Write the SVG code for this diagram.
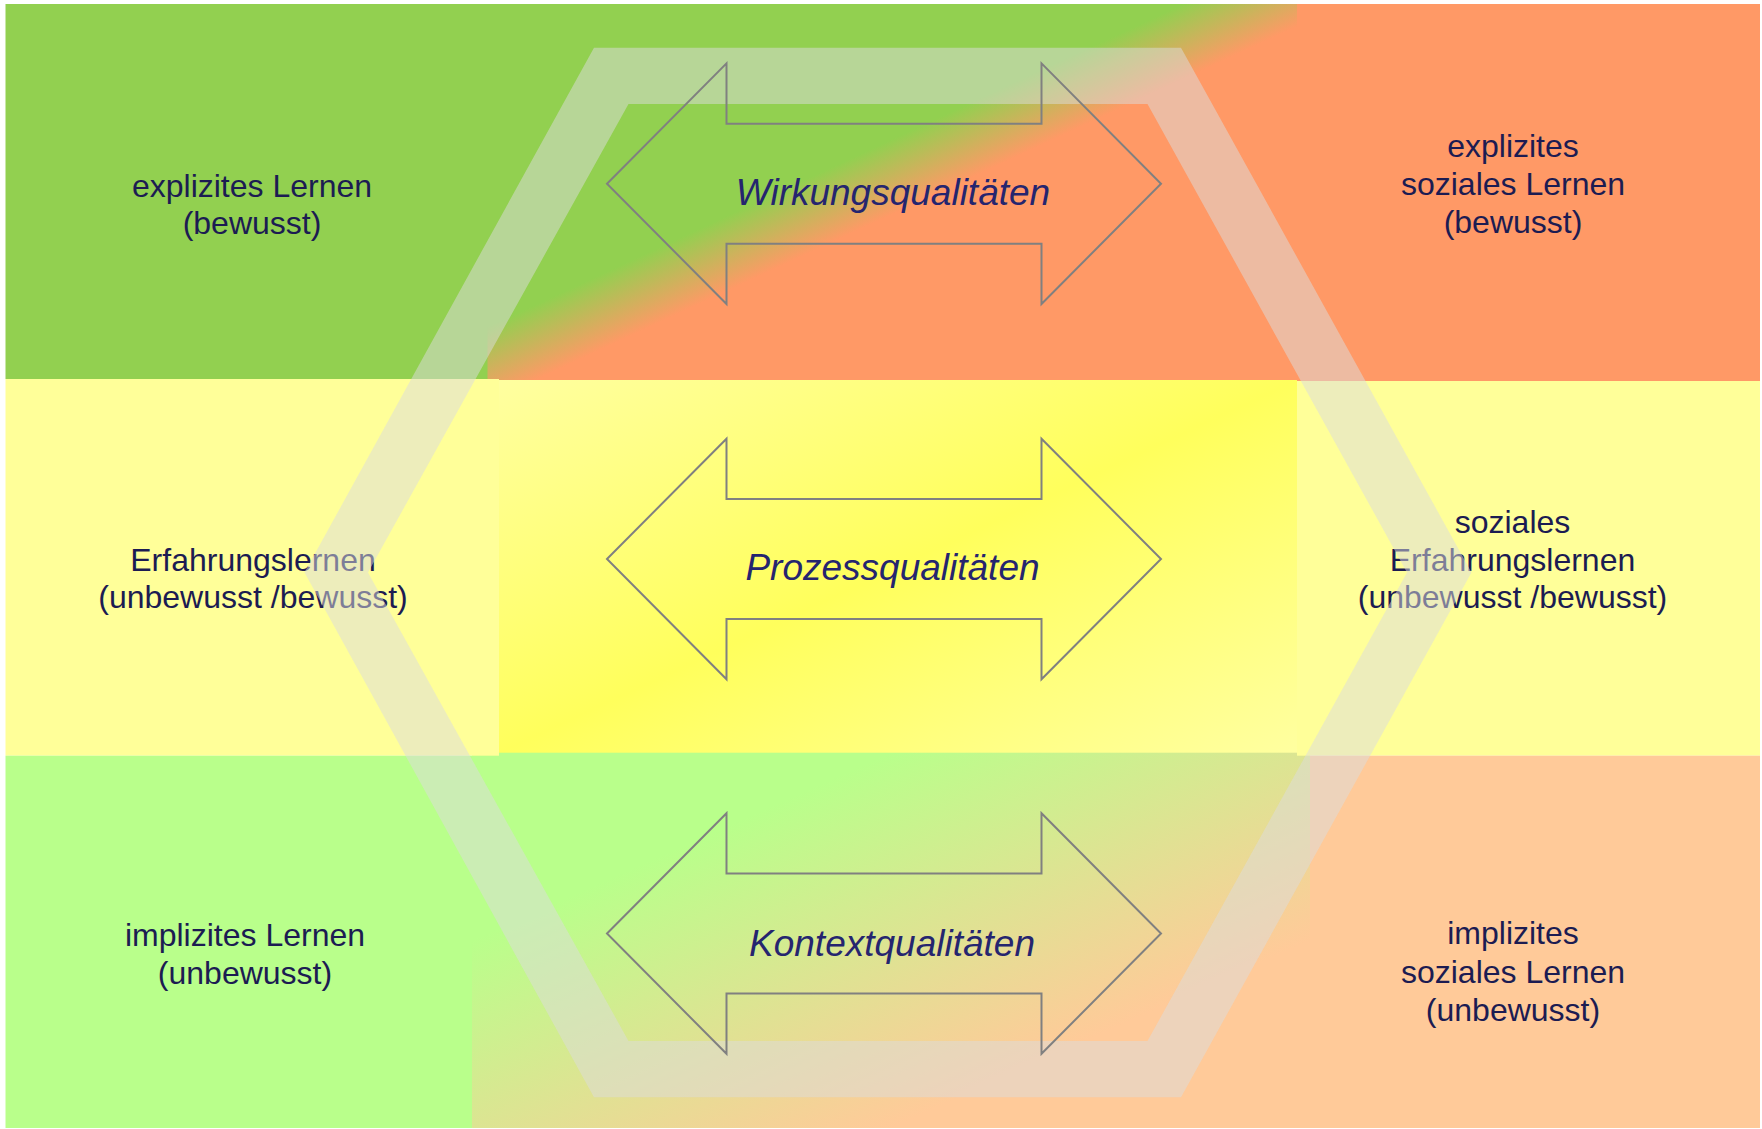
<svg xmlns="http://www.w3.org/2000/svg" width="1762" height="1129" viewBox="0 0 1762 1129">
<style>
.lbl{font-family:"Liberation Sans",Arial,sans-serif;font-size:32px;fill:#1C1C52;text-anchor:middle}
.q{font-family:"Liberation Sans",Arial,sans-serif;font-size:37px;font-style:italic;fill:#25256F;text-anchor:middle}
.arr{fill:none;stroke:#808080;stroke-width:2;stroke-linejoin:miter}
</style>
<defs>
<linearGradient id="gTop" x1="0" y1="0" x2="1" y2="1">
<stop offset="0.43" stop-color="#92D050"/>
<stop offset="0.53" stop-color="#FF9966"/>
</linearGradient>
<linearGradient id="gMid" x1="0" y1="0" x2="1" y2="1">
<stop offset="0" stop-color="#FFFFA0"/>
<stop offset="0.5" stop-color="#FFFF5C"/>
<stop offset="1" stop-color="#FFFFA0"/>
</linearGradient>
<linearGradient id="gBot" x1="0" y1="0" x2="1" y2="1">
<stop offset="0.25" stop-color="#B9FF8B"/>
<stop offset="0.75" stop-color="#FFCA99"/>
</linearGradient>
<path id="dbl" d="M-277,0 L-157.5,-120.3 L-157.5,-60 L157.5,-60 L157.5,-120.3 L277,0 L157.5,120.3 L157.5,60 L-157.5,60 L-157.5,120.3 Z"/>
</defs>
<rect width="1762" height="1129" fill="#FFFFFF"/>

<g id="cell-top-center"><rect x="487" y="4" width="810" height="376" fill="url(#gTop)"/></g>
<g id="cell-top-left">
<rect x="5.5" y="4" width="482" height="375" fill="#92D050"/>
<text class="lbl" x="252" y="196.5">explizites Lernen</text>
<text class="lbl" x="252" y="233.5">(bewusst)</text>
</g>
<g id="cell-top-right">
<rect x="1297" y="4" width="463" height="377" fill="#FF9966"/>
<text class="lbl" x="1513" y="157">explizites</text>
<text class="lbl" x="1513" y="195">soziales Lernen</text>
<text class="lbl" x="1513" y="233">(bewusst)</text>
</g>

<g id="cell-mid-center"><rect x="499" y="380" width="798" height="373" fill="url(#gMid)"/></g>
<g id="cell-bot-center"><rect x="472" y="752.7" width="838" height="375.3" fill="url(#gBot)"/></g>
<g id="cell-mid-left">
<rect x="5.5" y="379" width="493.5" height="376.7" fill="#FFFF99"/>
<text class="lbl" x="253" y="570.7">Erfahrungslernen</text>
<text class="lbl" x="253" y="608.3">(unbewusst /bewusst)</text>
</g>
<g id="cell-mid-right">
<rect x="1297" y="381" width="463" height="374.7" fill="#FFFF99"/>
<text class="lbl" x="1512.5" y="532.7">soziales</text>
<text class="lbl" x="1512.5" y="570.7">Erfahrungslernen</text>
<text class="lbl" x="1512.5" y="608.3">(unbewusst /bewusst)</text>
</g>
<g id="cell-bot-left">
<rect x="5.5" y="755.7" width="466.5" height="372.3" fill="#B9FF8B"/>
<text class="lbl" x="245" y="945.7">implizites Lernen</text>
<text class="lbl" x="245" y="984">(unbewusst)</text>
</g>
<g id="cell-bot-right">
<rect x="1310" y="755.7" width="450" height="372.3" fill="#FFCA99"/>
<text class="lbl" x="1513" y="944">implizites</text>
<text class="lbl" x="1513" y="982.7">soziales Lernen</text>
<text class="lbl" x="1513" y="1021">(unbewusst)</text>
</g>

<g id="hexagon-band">
<path fill="#DBDBDB" fill-opacity="0.51" fill-rule="evenodd" d="M594,47.7 L1181,47.7 L1471.5,572.5 L1181,1097.3 L594,1097.3 L304.5,572.5 Z M628.5,104 L1147.5,104 L1407,572.5 L1147.5,1041 L628.5,1041 L368,572.5 Z"/>
</g>

<g id="arrow-wirkung">
<use href="#dbl" class="arr" transform="translate(884,183.7)"/>
<text class="q" x="893" y="205">Wirkungsqualitäten</text>
</g>
<g id="arrow-prozess">
<use href="#dbl" class="arr" transform="translate(884,559)"/>
<text class="q" x="892.5" y="580">Prozessqualitäten</text>
</g>
<g id="arrow-kontext">
<use href="#dbl" class="arr" transform="translate(884,933.5)"/>
<text class="q" x="892" y="956">Kontextqualitäten</text>
</g>
<g id="connectors"/>
</svg>
